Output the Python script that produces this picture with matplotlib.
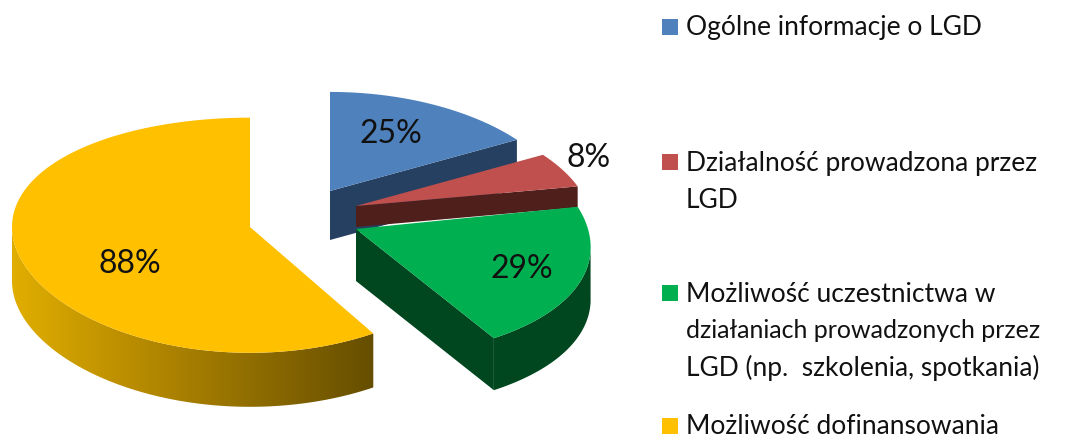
import numpy as np
import matplotlib
matplotlib.use('Agg')
import matplotlib.pyplot as plt
from matplotlib.colors import LinearSegmentedColormap
from matplotlib.patches import Polygon

# dane wykresu
values = [25, 8, 29, 88]
pct_labels = ['25%', '8%', '29%', '88%']
categories = [
    'Ogólne informacje o LGD',
    'Działalność prowadzona przez\nLGD',
    'Możliwość uczestnictwa w\ndziałaniach prowadzonych przez\nLGD (np.  szkolenia, spotkania)',
    'Możliwość dofinansowania',
]

# kolory
top_colors = ['#4f81bd', '#c0504d', '#00b050', '#ffc000']
side_colors = ['#254061', '#4f1f1c', '#00471f', None]

# uklad: srodki wycinkow w pikselach, promienie, perspektywa, grubosc
centers = [(330, 191), (356, 206), (356, 229), (250, 227)]
radius_x = [232, 232, 232, 238]
radius_y = [106, 106, 120, 117]
persp_x = [0.15, 0.15, 0.15, 0.0]
thickness = [49, 21, 52, 54]
label_pos = [(391, 134), (589, 158), (522, 269), (130, 264)]
legend_y = [28, 163, 294, 427]
line_step = 37

plt.rcParams['font.family'] = ['Lato', 'DejaVu Sans']

fig = plt.figure(figsize=(10.72, 4.4), dpi=100)
ax = fig.add_axes([0, 0, 1, 1])


def rim(i, t):
    # punkt na obwodzie wycinka, t w stopniach liczone od gory w prawo
    t = np.radians(t)
    s, c = np.sin(t), np.cos(t)
    x = centers[i][0] + radius_x[i] * s / (1 + persp_x[i] * c)
    y = centers[i][1] - radius_y[i] * c / (1 + 0.07 * c)
    return np.column_stack([x, y])


def wall(pts, depth):
    # sciana boczna pod krawedzia
    return np.vstack([pts, pts[::-1] + [0, depth]])


ends = np.cumsum(values) / sum(values) * 360
starts = ends - np.array(values) / sum(values) * 360

for i in range(len(values)):
    a, b = starts[i], ends[i]
    arc = rim(i, np.linspace(a, b, 200))
    apex = np.array([centers[i]], dtype=float)
    d = thickness[i]

    if i == 3:
        # zolty wycinek ma sciane z gradientem
        outer = rim(i, np.linspace(a, 270, 150))
        poly = Polygon(wall(outer, d), closed=True, transform=ax.transData,
                       facecolor='none', edgecolor='none')
        ax.add_patch(poly)
        cmap = LinearSegmentedColormap.from_list('side', ['#e0ae00', '#b98c00', '#8f6d00', '#664e00'])
        xs = wall(outer, d)[:, 0]
        img = ax.imshow(np.linspace(0, 1, 256).reshape(1, -1), cmap=cmap, aspect='auto',
                        extent=[xs.min(), xs.max(), 440, 0], zorder=1)
        img.set_clip_path(poly)
    else:
        # sciana przy cieciu
        cut = np.vstack([apex, arc[-1:]])
        ax.fill(*wall(cut, d).T, color=side_colors[i], lw=0, zorder=i + 1)
        if i == 2:
            outer = rim(i, np.linspace(100, b, 100))
            ax.fill(*wall(outer, d).T, color=side_colors[i], lw=0, zorder=i + 1)

    ax.fill(*np.vstack([apex, arc]).T, color=top_colors[i], lw=0, zorder=i + 1.5)
    ax.text(*label_pos[i], pct_labels[i], fontsize=23, color='#111111',
            ha='center', va='center', zorder=6)

# legenda
for i, name in enumerate(categories):
    y = legend_y[i]
    ax.add_patch(plt.Rectangle((662, y - 9), 16, 16, facecolor=top_colors[i], edgecolor='none'))
    for n, line in enumerate(name.split('\n')):
        # ten wiersz jest w oryginale wezszy
        size = 18 if line.startswith('działaniach') else 19
        ax.text(686, y + n * line_step, line, fontsize=size, color='#111111', ha='left', va='center')

ax.set_xlim(0, 1072)
ax.set_ylim(440, 0)
ax.axis('off')

fig.savefig('out.png', dpi=100)
